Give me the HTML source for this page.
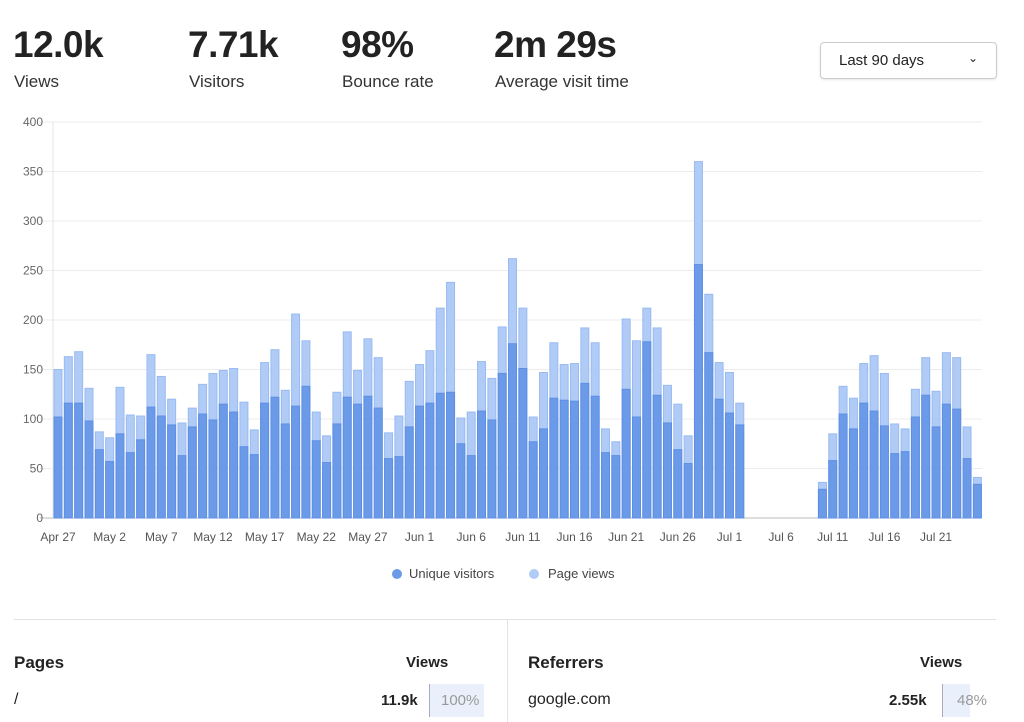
<!DOCTYPE html>
<html><head><meta charset="utf-8"><style>
body{margin:0;width:1024px;height:722px;overflow:hidden;background:#fff;font-family:"Liberation Sans",sans-serif;color:#222;position:relative}
.a{position:absolute;white-space:nowrap}
.big{font-size:37px;font-weight:bold;top:24px;letter-spacing:-0.5px}
.lbl{font-size:17px;top:72px;color:#333}
</style></head><body>
<div class="a big" style="left:13px">12.0k</div>
<div class="a lbl" style="left:14px">Views</div>
<div class="a big" style="left:188px">7.71k</div>
<div class="a lbl" style="left:189px">Visitors</div>
<div class="a big" style="left:341px">98%</div>
<div class="a lbl" style="left:342px">Bounce rate</div>
<div class="a big" style="left:494px">2m 29s</div>
<div class="a lbl" style="left:495px">Average visit time</div>
<div class="a" style="left:820px;top:42px;width:175px;height:35px;border:1px solid #ccc;border-radius:4px;box-shadow:0 1px 2px rgba(0,0,0,.1);font-size:15px"><span style="position:absolute;left:18px;top:9px">Last 90 days</span><span style="position:absolute;right:18px;top:8px;font-size:12px">&#8964;</span></div>
<svg id="chart" class="a" style="left:0;top:0" width="1024" height="600"></svg>
<div class="a" style="left:14px;top:619px;width:982px;height:1px;background:#e3e3e3"></div>
<div class="a" style="left:507px;top:619px;width:1px;height:103px;background:#e3e3e3"></div>
<div class="a" style="left:14px;top:653px;font-size:17px;font-weight:bold">Pages</div>
<div class="a" style="left:406px;top:654px;font-size:15px;font-weight:bold">Views</div>
<div class="a" style="left:14px;top:691px;font-size:16px">/</div>
<div class="a" style="left:381px;top:692px;font-size:15px;font-weight:bold">11.9k</div>
<div class="a" style="left:429px;top:684px;width:54px;height:33px;background:#eaf0fb;border-left:1px solid #aab"></div>
<div class="a" style="left:441px;top:692px;font-size:15px;color:#999">100%</div>
<div class="a" style="left:528px;top:653px;font-size:17px;font-weight:bold">Referrers</div>
<div class="a" style="left:920px;top:654px;font-size:15px;font-weight:bold">Views</div>
<div class="a" style="left:528px;top:691px;font-size:16px">google.com</div>
<div class="a" style="left:889px;top:692px;font-size:15px;font-weight:bold">2.55k</div>
<div class="a" style="left:942px;top:684px;width:27px;height:33px;background:#eaf0fb;border-left:1px solid #aab"></div>
<div class="a" style="left:957px;top:692px;font-size:15px;color:#999">48%</div>
<script>
const visitors=[102,116,116,98,69,57,85,66,79,112,103,94,63,92,105,99,115,107,72,64,116,122,95,113,133,78,56,95,122,115,123,111,60,62,92,113,116,126,127,75,63,108,99,146,176,151,77,90,121,119,118,136,123,66,63,130,102,178,124,96,69,55,256,167,120,106,94,0,0,0,0,0,0,0,29,58,105,90,116,108,93,65,67,102,124,92,115,110,60,34];
const pageviews=[150,163,168,131,87,81,132,104,103,165,143,120,96,111,135,146,149,151,117,89,157,170,129,206,179,107,83,127,188,149,181,162,86,103,138,155,169,212,238,101,107,158,141,193,262,212,102,147,177,155,156,192,177,90,77,201,179,212,192,134,115,83,360,226,157,147,116,0,0,0,0,0,0,0,36,85,133,121,156,164,146,95,90,130,162,128,167,162,92,41];
const yTicks=[0,50,100,150,200,250,300,350,400];
const xLabels=["Apr 27","May 2","May 7","May 12","May 17","May 22","May 27","Jun 1","Jun 6","Jun 11","Jun 16","Jun 21","Jun 26","Jul 1","Jul 6","Jul 11","Jul 16","Jul 21"];
const NS="http://www.w3.org/2000/svg",svg=document.getElementById('chart');
const y=v=>518-v*0.99, x=i=>58+i*10.33;
function mk(t,a){const e=document.createElementNS(NS,t);for(const k in a)e.setAttribute(k,a[k]);svg.appendChild(e);return e;}
yTicks.forEach(v=>{
 const l=mk('line',{x1:40,x2:982,y1:y(v),y2:y(v),stroke:v?'#ececec':'#bbb','stroke-width':1});
 
 
 const t=mk('text',{x:43,y:y(v)+4,'text-anchor':'end','font-size':12,fill:'#666'});t.textContent=v;
 
 
});
const ax=mk('line',{x1:53,x2:53,y1:122,y2:518,stroke:'#e6e6e6'});


pageviews.forEach((v,i)=>{
 if(!v)return;
 const r=mk('rect',{x:x(i)-4,y:y(v),width:8,height:518-y(v),fill:'#b0cbf5',stroke:'#99bbf2','stroke-width':1});
 
 
});
visitors.forEach((v,i)=>{
 if(!v)return;
 const r=mk('rect',{x:x(i)-4,y:y(v),width:8,height:518-y(v),fill:'#6b9be8',stroke:'#5d8ee4','stroke-width':1});
 
 
});
xLabels.forEach((s,k)=>{
 const t=mk('text',{x:x(k*5),y:541,'text-anchor':'middle','font-size':12,fill:'#555'});t.textContent=s;
 
 
});
[[397,'#6b9be8','Unique visitors',409],[534,'#b0cbf5','Page views',548]].forEach(([cx,c,s,tx])=>{
 const d=mk('circle',{cx:cx,cy:574,r:5,fill:c});
 
 
 const t=mk('text',{x:tx,y:578,'font-size':13,fill:'#444'});t.textContent=s;
 
 
});
</script>
</body></html>
